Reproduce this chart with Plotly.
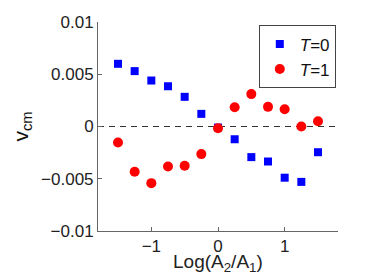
import plotly.graph_objects as go

x_vals = [-1.5, -1.25, -1.0, -0.75, -0.5, -0.25, 0.0, 0.25, 0.5, 0.75, 1.0, 1.25, 1.5]
t0_vals = [0.0060, 0.0053, 0.0044, 0.00385, 0.00284, 0.00121, -0.0001, -0.00122, -0.00293, -0.00335, -0.0049, -0.0053, -0.00246]
t1_vals = [-0.00153, -0.00433, -0.00542, -0.00382, -0.00376, -0.00264, -0.00016, 0.00185, 0.0031, 0.00188, 0.00165, 0.0, 0.0005]
x_ticks = [-1, 0, 1]
y_ticks = [-0.01, -0.005, 0, 0.005, 0.01]
y_tick_labels = ["\u22120.01", "\u22120.005", "0", "0.005", "0.01"]
x_tick_labels = ["\u22121", "0", "1"]
x_title = "Log(A<sub>2</sub>/A<sub>1</sub>)"
y_title = "v<sub>cm</sub>"

FAM = "Liberation Sans, Arial, sans-serif"

fig = go.Figure()
fig.add_trace(go.Scatter(x=x_vals, y=t0_vals, mode="markers", name="<i>T</i>=0",
                         marker=dict(symbol="square", size=8, color="#0000FF")))
fig.add_trace(go.Scatter(x=x_vals, y=t1_vals, mode="markers", name="<i>T</i>=1",
                         marker=dict(symbol="circle", size=10, color="#FF0000")))

fig.add_shape(type="line", xref="x", yref="y", x0=-1.8, x1=1.8, y0=0, y1=0,
              line=dict(color="#333333", width=1, dash="6px,5px"), layer="below")

fig.add_annotation(text=x_title, xref="paper", yref="paper", x=0.5, y=0,
                   xanchor="center", yanchor="top", yshift=-18, showarrow=False,
                   font=dict(family=FAM, size=19, color="#222222"))
fig.add_annotation(text=y_title, xref="paper", yref="paper", x=0, y=0.5,
                   xanchor="center", yanchor="middle", xshift=-77, textangle=-90,
                   showarrow=False,
                   font=dict(family=FAM, size=21, color="#111111"))

fig.update_layout(
    width=366, height=272,
    margin=dict(l=90, r=36, t=14, b=49, autoexpand=False),
    paper_bgcolor="white", plot_bgcolor="white",
    font=dict(family=FAM, size=17, color="#222222"),
    showlegend=True,
    legend=dict(x=0.67, y=0.984, xanchor="left", yanchor="top",
                bordercolor="#444444", borderwidth=1, bgcolor="white",
                font=dict(family=FAM, size=17, color="#111111"),
                itemwidth=30, tracegroupgap=0),
    xaxis=dict(range=[-1.8, 1.8], tickvals=x_ticks, ticktext=x_tick_labels,
               automargin=False,
               showgrid=False, zeroline=False, showline=True, linecolor="#666666", linewidth=1,
               ticks="inside", ticklen=4, tickcolor="#666666",
               tickfont=dict(family=FAM, size=17, color="#222222")),
    yaxis=dict(range=[-0.01, 0.01], tickvals=y_ticks, ticktext=y_tick_labels,
               automargin=False,
               showgrid=False, zeroline=False, showline=True, linecolor="#666666", linewidth=1,
               ticks="inside", ticklen=4, tickcolor="#666666",
               tickfont=dict(family=FAM, size=17, color="#222222")),
)
fig.write_html("out.html")
